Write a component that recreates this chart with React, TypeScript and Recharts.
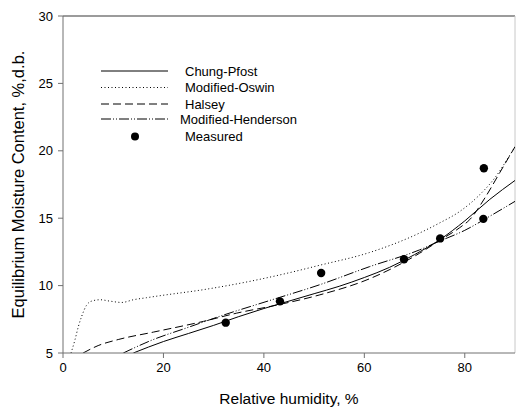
import React from 'react';
import {
    ComposedChart,
    Line,
    Scatter,
    XAxis,
    YAxis,
    Legend,
    ReferenceLine,
} from 'recharts';

// values
const chungPfostX = [14, 20, 25, 30, 35, 40, 45, 50, 55, 60, 65, 70, 75, 80, 85, 90];
const chungPfostY = [5, 5.85, 6.45, 7.05, 7.7, 8.3, 8.85, 9.4, 9.95, 10.6, 11.35, 12.3, 13.4, 14.8, 16.4, 17.8];

const oswinX = [1.6, 2.4, 3.05, 3.7, 4.7, 5.7, 7.4, 9.3, 11.7, 14, 16.6, 19.3, 28, 37, 45, 51, 61, 71, 75, 79, 83, 86, 89, 90];
const oswinY = [5, 6.0, 6.95, 7.7, 8.55, 8.85, 8.95, 8.85, 8.75, 8.95, 9.1, 9.25, 9.7, 10.3, 10.95, 11.5, 12.45, 13.9, 14.65, 15.5, 16.75, 18.0, 19.7, 20.3];

const halseyX = [4, 7, 11, 18, 28, 34.5, 42.5, 51, 61, 71, 75, 79, 81, 84, 87, 90];
const halseyY = [5, 5.55, 6.0, 6.55, 7.35, 7.95, 8.55, 9.3, 10.5, 12.4, 13.35, 14.3, 14.9, 16.5, 18.4, 20.3];

const hendersonX = [12, 18, 24.6, 31.2, 41.2, 51, 61, 71, 75, 80, 85, 90];
const hendersonY = [5, 6.0, 6.86, 7.72, 8.9, 10.05, 11.4, 12.65, 13.3, 14.1, 15.15, 16.25];

const measuredX = [32.4, 43.2, 51.4, 67.9, 75.1, 83.7, 83.8];
const measuredY = [7.25, 8.83, 10.94, 11.95, 13.5, 14.95, 18.7];

const xTicks = [0, 20, 40, 60, 80];
const yTicks = [5, 10, 15, 20, 25, 30];

const toPoints = (xs: number[], ys: number[]) => xs.map((x, i) => ({ x, y: ys[i] }));

const FONT = '"Liberation Sans", Arial, sans-serif';

const series = [
    { name: 'Chung-Pfost', data: toPoints(chungPfostX, chungPfostY), dash: undefined },
    { name: 'Modified-Oswin', data: toPoints(oswinX, oswinY), dash: '1 2.5' },
    { name: 'Halsey', data: toPoints(halseyX, halseyY), dash: '8 4' },
    { name: ' Modified-Henderson', data: toPoints(hendersonX, hendersonY), dash: '10 2 1 2 1 2' },
];
const measured = toPoints(measuredX, measuredY);

const legendRows = [0, 16.5, 33, 48, 65.5];

const renderLegend = () => (
    <svg width={230} height={80} style={{ display: 'block', fontFamily: FONT }}>
        {series.map((s, i) => (
            <g key={s.name}>
                <line
                    x1={0}
                    x2={67}
                    y1={legendRows[i] + 6}
                    y2={legendRows[i] + 6}
                    stroke="#000"
                    strokeDasharray={s.dash}
                />
                <text x={s.name.startsWith(' ') ? 79 : 84} y={legendRows[i] + 10.5} fontSize={13} fill="#000">
                    {s.name.trim()}
                </text>
            </g>
        ))}
        <circle cx={34} cy={legendRows[4] + 6} r={4} fill="#000" />
        <text x={84} y={legendRows[4] + 10.5} fontSize={13} fill="#000">Measured</text>
    </svg>
);

const App: React.FC = () => {
    return (
        <div style={{ position: 'absolute', left: 0, top: 0, background: '#fff' }}>
            <ComposedChart
                width={516}
                height={407}
                margin={{ top: 16, right: 1, left: 0, bottom: 0 }}
                style={{ fontFamily: FONT }}
            >
                <XAxis
                    type="number"
                    dataKey="x"
                    domain={[0, 90]}
                    ticks={xTicks}
                    allowDataOverflow
                    height={54}
                    tickSize={5}
                    tickMargin={5}
                    stroke="#707070"
                    tick={{ fill: '#000', fontSize: 13 }}
                    label={{
                        value: 'Relative humidity, %',
                        position: 'insideBottom',
                        offset: 3,
                        style: { fill: '#000', fontSize: 15.5, textAnchor: 'middle' },
                    }}
                />
                <YAxis
                    type="number"
                    dataKey="y"
                    domain={[5, 30]}
                    ticks={yTicks}
                    allowDataOverflow
                    width={63}
                    tickSize={5}
                    tickMargin={5}
                    stroke="#707070"
                    tick={{ fill: '#000', fontSize: 13 }}
                    label={{
                        value: 'Equilibrium Moisture Content,  %,d.b.',
                        angle: -90,
                        position: 'insideLeft',
                        offset: 18,
                        style: { fill: '#000', fontSize: 16.5, textAnchor: 'middle' },
                    }}
                />
                <ReferenceLine y={30} stroke="#7a7a7a" strokeWidth={1.5} />
                <ReferenceLine x={90} stroke="#c8c8c8" />
                {series.map((s) => (
                    <Line
                        key={s.name}
                        data={s.data}
                        dataKey="y"
                        type="monotone"
                        stroke="#000"
                        strokeWidth={1}
                        strokeDasharray={s.dash}
                        dot={false}
                        activeDot={false}
                        isAnimationActive={false}
                        name={s.name}
                    />
                ))}
                <Scatter
                    data={measured}
                    dataKey="y"
                    fill="#000"
                    isAnimationActive={false}
                    shape={(p: any) => <circle cx={p.cx} cy={p.cy} r={4.2} fill="#000" />}
                />
                <Legend
                    layout="vertical"
                    align="center"
                    verticalAlign="middle"
                    wrapperStyle={{ left: 101, top: 65, width: 230, height: 80 }}
                    content={renderLegend}
                />
            </ComposedChart>
        </div>
    );
};

export default App;
